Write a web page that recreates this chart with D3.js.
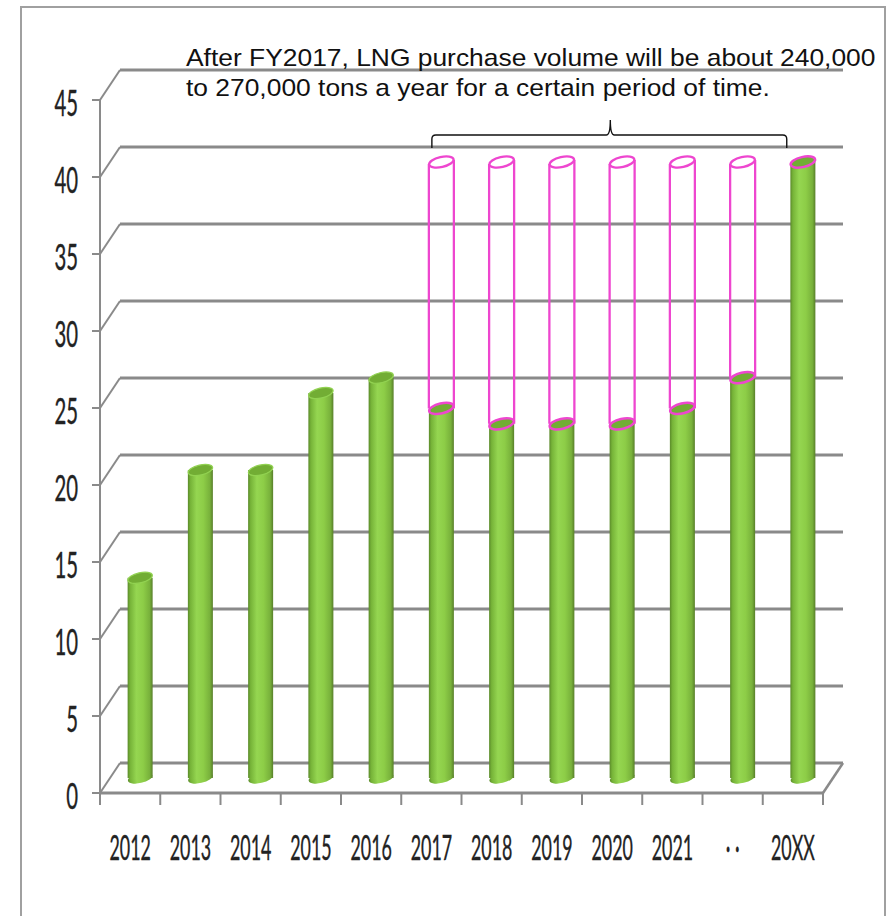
<!DOCTYPE html>
<html>
<head>
<meta charset="utf-8">
<script src="https://cdn.jsdelivr.net/npm/d3@7"></script>
<style>
  html, body { margin: 0; padding: 0; background: #ffffff; }
  svg { display: block; }
</style>
</head>
<body>
<svg id="chart" width="887" height="916"></svg>
<script>
// LNG purchase volume by fiscal year (10,000 tons)
const categories = ["2012","2013","2014","2015","2016","2017","2018","2019","2020","2021","··","20XX"];
const tickLabels = ["2012","2013","2014","2015","2016","2017","2018","2019","2020","2021","· ·","20XX"];
const purchase = [13, 20, 20, 25, 26, 24, 23, 23, 23, 24, 26, 40];
// contracted ceiling shown as an outlined cylinder above the purchase bar
const ceiling = [null, null, null, null, null, 40, 40, 40, 40, 40, 40, null];
const yTicks = [0, 5, 10, 15, 20, 25, 30, 35, 40, 45];
const noteLines = [
  "After FY2017, LNG purchase volume will be about 240,000",
  "to 270,000 tons a year for a certain period of time."
];

const svg = d3.select("#chart");

// pseudo-3D depth offset of the back wall
const DX = 20, DY = -30;

const y = d3.scaleLinear().domain([0, 45]).range([793, 100]);
const x = d3.scaleBand().domain(categories).range([100, 823]);

const PINK = "#ee46cf";
const GRID = "#8a8a8a";
const LABEL_FONT = "Lato, 'Open Sans', sans-serif";

// outer frame
svg.append("rect")
  .attr("x", 21).attr("y", 7).attr("width", 864).attr("height", 940)
  .attr("fill", "#fff").attr("stroke", "#a0a0a0").attr("stroke-width", 2);

const defs = svg.append("defs");
const grad = defs.append("linearGradient").attr("id", "cyl")
  .attr("x1", "0%").attr("x2", "100%").attr("y1", "0%").attr("y2", "0%");
[["0%", "#5b8a2a"], ["10%", "#76b338"], ["35%", "#95d651"], ["62%", "#8dcd47"],
 ["88%", "#78b13b"], ["100%", "#587f2a"]].forEach(([o, c]) =>
  grad.append("stop").attr("offset", o).attr("stop-color", c));

// gridlines: back wall + left wall diagonals
const grid = svg.append("g");
yTicks.forEach(t => {
  const yf = y(t);
  grid.append("line")
    .attr("x1", 100 + DX).attr("x2", 823 + DX)
    .attr("y1", yf + DY).attr("y2", yf + DY)
    .attr("stroke", GRID).attr("stroke-width", 3.2);
  grid.append("line")
    .attr("x1", 100).attr("y1", yf).attr("x2", 100 + DX).attr("y2", yf + DY)
    .attr("stroke", GRID).attr("stroke-width", 2);
});

// floor: front edge and right edge
grid.append("line")
  .attr("x1", 100).attr("x2", 823).attr("y1", y(0)).attr("y2", y(0))
  .attr("stroke", GRID).attr("stroke-width", 3);
grid.append("line")
  .attr("x1", 823).attr("y1", y(0)).attr("x2", 823 + DX).attr("y2", y(0) + DY)
  .attr("stroke", GRID).attr("stroke-width", 2.5);

// front value axis
const axis = svg.append("g");
axis.append("line")
  .attr("x1", 100).attr("x2", 100).attr("y1", y(45)).attr("y2", y(0) + 12)
  .attr("stroke", GRID).attr("stroke-width", 2);
yTicks.forEach(t => {
  axis.append("line")
    .attr("x1", 92).attr("x2", 100).attr("y1", y(t)).attr("y2", y(t))
    .attr("stroke", GRID).attr("stroke-width", 2);
  axis.append("text")
    .attr("transform", `translate(78,${y(t) + 16}) scale(0.55,1)`)
    .attr("text-anchor", "end")
    .attr("font-family", LABEL_FONT)
    .attr("font-size", 37)
    .attr("fill", "#222").attr("stroke", "#222").attr("stroke-width", 0.4)
    .text(t);
});

// category axis ticks and labels
categories.forEach((c, i) => {
  const xe = x(c) + x.bandwidth();
  axis.append("line")
    .attr("x1", xe).attr("x2", xe).attr("y1", y(0)).attr("y2", y(0) + 12)
    .attr("stroke", GRID).attr("stroke-width", 2);
  axis.append("text")
    .attr("transform", `translate(${x(c) + x.bandwidth() / 2},860) scale(0.51,1)`)
    .attr("text-anchor", "middle")
    .attr("font-family", LABEL_FONT)
    .attr("font-size", 35)
    .attr("fill", "#222").attr("stroke", "#222").attr("stroke-width", 0.4)
    .text(tickLabels[i]);
});

// cylinders
const bw = x.bandwidth() * 0.415;
const rx = bw / 2, ry = 5, tilt = -13;
const cx = c => x(c) + x.bandwidth() / 2 + DX / 2;
const my = v => y(v) + DY / 2;

const bars = svg.append("g");
categories.forEach((c, i) => {
  const v = purchase[i];
  const xc = cx(c), yt = my(v), yb = my(0);
  // rounded base
  bars.append("ellipse")
    .attr("cx", xc).attr("cy", yb).attr("rx", rx).attr("ry", ry)
    .attr("transform", `rotate(${tilt},${xc},${yb})`)
    .attr("fill", "url(#cyl)");
  bars.append("rect")
    .attr("x", xc - rx).attr("y", yt).attr("width", bw).attr("height", yb - yt)
    .attr("fill", "url(#cyl)");
  const outlined = ceiling[i] != null || i === categories.length - 1;
  bars.append("ellipse")
    .attr("cx", xc).attr("cy", yt).attr("rx", rx).attr("ry", ry)
    .attr("transform", `rotate(${tilt},${xc},${yt})`)
    .attr("fill", "#72ad34")
    .attr("stroke", outlined ? PINK : "#92d252")
    .attr("stroke-width", outlined ? 2.5 : 1.2);
});

// outlined ceiling cylinders
const caps = svg.append("g").attr("fill", "none").attr("stroke", PINK).attr("stroke-width", 2.3);
categories.forEach((c, i) => {
  if (ceiling[i] == null) return;
  const xc = cx(c), yt = my(ceiling[i]), yb = my(purchase[i]);
  caps.append("line").attr("x1", xc - rx).attr("x2", xc - rx).attr("y1", yt + 2).attr("y2", yb);
  caps.append("line").attr("x1", xc + rx).attr("x2", xc + rx).attr("y1", yt - 2).attr("y2", yb);
  caps.append("ellipse")
    .attr("cx", xc).attr("cy", yt).attr("rx", rx).attr("ry", ry)
    .attr("transform", `rotate(${tilt},${xc},${yt})`)
    .attr("fill", "#fff");
});

// brace over the ceiling period
const firstC = categories[ceiling.findIndex(d => d != null)];
const lastC = categories[ceiling.length - 1 - [...ceiling].reverse().findIndex(d => d != null)];
const bx0 = cx(firstC) - rx + 3;
const bx1 = cx(lastC) + x.bandwidth() / 2 + 14;
const bmid = (bx0 + bx1) / 2 + 1;
const by0 = 148, by1 = 135, byTop = 120;
const r = 4;
svg.append("path")
  .attr("d", `M${bx0},${by0} L${bx0},${by1 + r} Q${bx0},${by1} ${bx0 + r},${by1}
              L${bmid - r},${by1} Q${bmid},${by1} ${bmid},${byTop}
              Q${bmid},${by1} ${bmid + r},${by1}
              L${bx1 - r},${by1} Q${bx1},${by1} ${bx1},${by1 + r} L${bx1},${by0}`)
  .attr("fill", "none").attr("stroke", "#111").attr("stroke-width", 1.4);

// note, slightly widened to the box it sits in
const note = svg.append("text")
  .attr("transform", "translate(186,0) scale(1.1,1)")
  .attr("font-family", "'Liberation Sans', Arial, sans-serif")
  .attr("font-size", 24)
  .attr("fill", "#111");
noteLines.forEach((t, i) => {
  note.append("tspan").attr("x", 0).attr("y", 66 + i * 30).text(t);
});
</script>
</body>
</html>
